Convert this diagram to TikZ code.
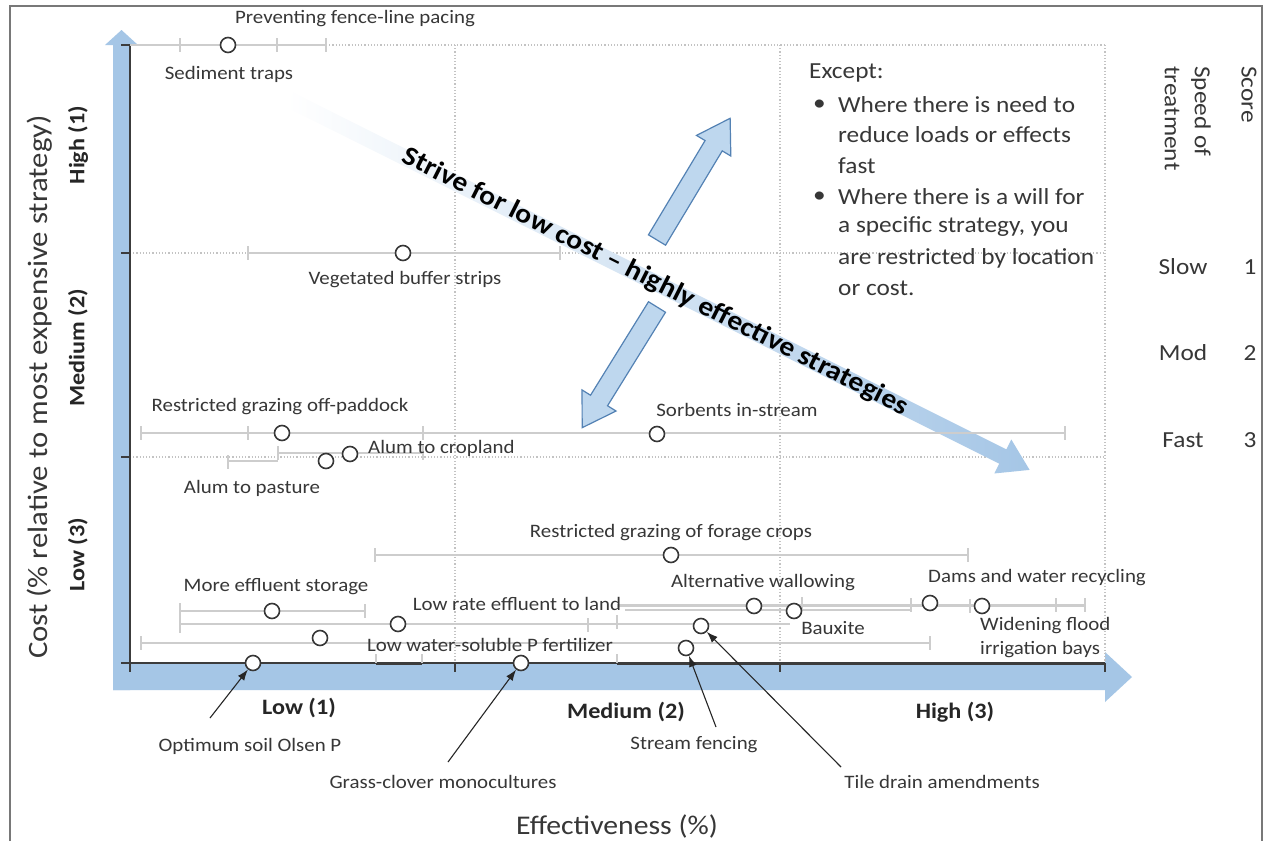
\documentclass[tikz,border=0pt]{standalone}
\usepackage{fontspec}
\setmainfont{Carlito}
\usetikzlibrary{arrows.meta}
\definecolor{axisblue}{RGB}{165,198,230}
\definecolor{blockfill}{RGB}{190,215,238}
\definecolor{blockedge}{RGB}{84,130,180}
\definecolor{barcol}{RGB}{205,205,205}
\definecolor{txt}{RGB}{55,55,55}
\definecolor{gridcol}{RGB}{195,195,195}
\definecolor{axiscol}{RGB}{60,60,60}
\definecolor{framecol}{RGB}{120,120,120}
\newcommand{\errbar}[3]{% y, x1, x2
  \draw[bar] (#2,#1) -- (#3,#1);
  \draw[bar] (#2,#1-7) -- (#2,#1+7);
  \draw[bar] (#3,#1-7) -- (#3,#1+7);}
\newcommand{\etick}[2]{\draw[bar] (#1,#2-7) -- (#1,#2+7);}
\begin{document}
\begin{tikzpicture}[x=1pt,y=-1pt,
  lbl/.style={font=\fontsize{19}{22}\selectfont, text=txt, inner sep=0pt, xscale=1.1},
  big/.style={font=\fontsize{23}{30}\selectfont, text=txt, inner sep=0pt, xscale=1.1},
  cat/.style={font=\fontsize{22}{26}\selectfont\bfseries, text=black!85, inner sep=0pt, xscale=1.1},
  ttl/.style={font=\fontsize{27}{30}\selectfont, text=txt, inner sep=0pt, xscale=1.1},
  bar/.style={draw=barcol, line width=2pt},
  pt/.style={circle, draw=txt, fill=white, line width=1.6pt, minimum size=15pt, inner sep=0pt},
  gridline/.style={draw=gridcol, dotted, line width=1.2pt},
  ptr/.style={-{Latex[length=11pt,width=8pt]}, line width=1.1pt, draw=black!85},
  blockarrow/.style={fill=blockfill, draw=blockedge, line width=1.2pt},
  axisline/.style={draw=axiscol, line width=1.6pt}]

\useasboundingbox (0,0) rectangle (1266,841);
\fill[white] (0,0) rectangle (1266,841);
\draw[framecol, line width=1.5pt] (10,841) -- (10,6) -- (1262,6) -- (1262,841);

% blue axis bands
\fill[axisblue] (113,690) -- (113,45) -- (105,45) -- (121.5,30) -- (138,45) -- (130,45) -- (130,690) -- cycle;
\fill[axisblue] (113,664) -- (1105,664) -- (1105,652) -- (1132,677) -- (1105,702) -- (1105,690) -- (113,690) -- cycle;

% grid
\draw[gridline] (326,45) -- (1105,45);
\draw[gridline] (130,253) -- (1105,253);
\draw[gridline] (130,457) -- (1105,457);
\foreach \x in {455,780,1105} \draw[gridline] (\x,45) -- (\x,663);

% diagonal gradient arrow
\begin{scope}[shift={(290,100)}, rotate=-26.57]
  \shade[left color=white, right color=axisblue] (0,-8) -- (797,-8) -- (797,-19) -- (827,0) -- (797,19) -- (797,8) -- (0,8) -- cycle;
\end{scope}

% block arrows
\begin{scope}[shift={(657,240)}, rotate=59]
  \draw[blockarrow] (0,-10) -- (110,-10) -- (110,-20) -- (142,0) -- (110,20) -- (110,10) -- (0,10) -- cycle;
\end{scope}
\begin{scope}[shift={(657,307)}, rotate=238.2]
  \draw[blockarrow] (0,-10) -- (110,-10) -- (110,-20) -- (142,0) -- (110,20) -- (110,10) -- (0,10) -- cycle;
\end{scope}

% axes
\draw[axisline] (130,45) -- (130,663) -- (1105,663);
\foreach \y in {45,253,457,663} \draw[axisline] (121,\y) -- (130,\y);
\foreach \x in {130,455,780,1105} \draw[axisline] (\x,663) -- (\x,672);
\draw[axiscol, line width=3pt] (376,663) -- (422,663);
\draw[axiscol, line width=3pt] (617,663) -- (1105,663);
\foreach \x in {376,422,617} \draw[bar] (\x,654) -- (\x,663);

% error bars
\draw[bar] (130,45) -- (326,45);
\etick{180}{45} \etick{277}{45} \etick{326}{45}
\errbar{253}{248}{560}
\draw[bar] (141,433) -- (1065,433);
\etick{141}{433} \etick{248}{433} \etick{423}{433} \etick{1065}{433}
\errbar{453}{278}{423}
\draw[bar] (228,461) -- (278,461);
\etick{228}{462}
\errbar{555}{375}{968}
\errbar{611}{180}{365}
\draw[bar] (180,624) -- (790,624);
\draw[bar] (180,603) -- (180,633);
\etick{588}{625} \etick{617}{622}
\draw[bar, line width=3pt] (617,605) -- (1085,605);
\draw[bar] (625,610) -- (911,610);
\etick{802}{604} \etick{911}{605} \etick{970}{606} \etick{1056}{605} \etick{1085}{605}
\errbar{643}{141}{930}

% points
\node[pt] (pSed) at (228,45) {};
\node[pt] (pVeg) at (403,253) {};
\node[pt] (pRgo) at (282,433) {};
\node[pt] (pSorb) at (657,434) {};
\node[pt] (pAlc) at (350,454) {};
\node[pt] (pAlp) at (326,461) {};
\node[pt] (pRgf) at (671,555) {};
\node[pt] (pMes) at (272,611) {};
\node[pt] (pLre) at (398,624) {};
\node[pt] (pAw) at (754,606) {};
\node[pt] (pBx) at (794,611) {};
\node[pt] (pDam) at (930,603) {};
\node[pt] (pWf) at (982,606) {};
\node[pt] (pLws) at (320,638) {};
\node[pt] (pSf) at (686,648) {};
\node[pt] (pTd) at (701,626) {};
\node[pt] (pOsp) at (253,663) {};
\node[pt] (pGcm) at (521,663) {};

% point labels
\node[lbl] (tPrev) at (355,19) {Preventing fence-line pacing};
\node[lbl] (tSed) at (229,74) {Sediment traps};
\node[lbl] (tVeg) at (405,280) {Vegetated buffer strips};
\node[lbl] (tRgo) at (280,407) {Restricted grazing off-paddock};
\node[lbl] (tSorb) at (737,410) {Sorbents in-stream};
\node[lbl, anchor=west] (tAlc) at (368,448) {Alum to cropland};
\node[lbl] (tAlp) at (252,488) {Alum to pasture};
\node[lbl] (tRgf) at (671,533) {Restricted grazing of forage crops};
\node[lbl] (tMes) at (276,587) {More effluent storage};
\node[lbl] (tLre) at (517,604) {Low rate effluent to land};
\node[lbl] (tAw) at (763,583) {Alternative wallowing};
\node[lbl] (tBx) at (833,628) {Bauxite};
\node[lbl] (tDam) at (1037,578) {Dams and water recycling};
\node[lbl, anchor=west] (tWf1) at (980,626) {Widening flood};
\node[lbl, anchor=west] (tWf2) at (980,650) {irrigation bays};
\node[lbl] (tLws) at (490,645) {Low water-soluble P fertilizer};
\node[lbl] (tOsp) at (250,746) {Optimum soil Olsen P};
\node[lbl] (tGcm) at (443,782) {Grass-clover monocultures};
\node[lbl] (tSf) at (694,745) {Stream fencing};
\node[lbl] (tTd) at (942,782) {Tile drain amendments};

% pointer arrows
\coordinate (aOsp) at (210,718);
\coordinate (aGcm) at (448,762);
\coordinate (aSf) at (716,727);
\coordinate (aTd) at (841,767);
\draw[ptr] (aOsp) -- (pOsp);
\draw[ptr] (aGcm) -- (pGcm);
\draw[ptr] (aSf) -- (pSf);
\draw[ptr] (aTd) -- (pTd);

% diagonal text
\node[rotate=-26.8, font=\fontsize{27}{30}\selectfont\bfseries, xscale=1.1, inner sep=0pt] (strive) at (655,282) {Strive for low cost – highly effective strategies};

% except box
\node[big, anchor=west] (ex0) at (809,73) {Except:};
\node[big, anchor=west] (b1) at (813,105) {•};
\node[big, anchor=west] (ex1) at (838,105) {Where there is need to};
\node[big, anchor=west] (ex2) at (838,135) {reduce loads or effects};
\node[big, anchor=west] (ex3) at (838,166) {fast};
\node[big, anchor=west] (b2) at (813,197) {•};
\node[big, anchor=west] (ex4) at (838,197) {Where there is a will for};
\node[big, anchor=west] (ex5) at (838,227) {a specific strategy, you};
\node[big, anchor=west] (ex6) at (838,258) {are restricted by location};
\node[big, anchor=west] (ex7) at (838,288) {or cost.};

% speed column
\node[rotate=-90, big, anchor=north west, align=left] (speed) at (1211,66) {Speed of\\treatment};
\node[rotate=-90, big, anchor=west] (score) at (1249,66) {Score};
\node[big] (sSlow) at (1183,267) {Slow};
\node[big] (sMod) at (1183,353) {Mod};
\node[big] (sFast) at (1183,440) {Fast};
\node[big] (n1) at (1250,267) {1};
\node[big] (n2) at (1250,353) {2};
\node[big] (n3) at (1250,440) {3};

% axis titles
\node[rotate=90, ttl, font=\fontsize{28}{30}\selectfont] (ytitle) at (40,387) {Cost (\% relative to most expensive strategy)};
\node[rotate=90, cat] (yHigh) at (78,145) {High (1)};
\node[rotate=90, cat] (yMed) at (78,348) {Medium (2)};
\node[rotate=90, cat] (yLow) at (78,555) {Low (3)};
\node[cat] (xLow) at (299,708) {Low (1)};
\node[cat] (xMed) at (626,712) {Medium (2)};
\node[cat] (xHigh) at (955,712) {High (3)};
\node[ttl] (xtitle) at (617,826) {Effectiveness (\%)};
\end{tikzpicture}
\end{document}
